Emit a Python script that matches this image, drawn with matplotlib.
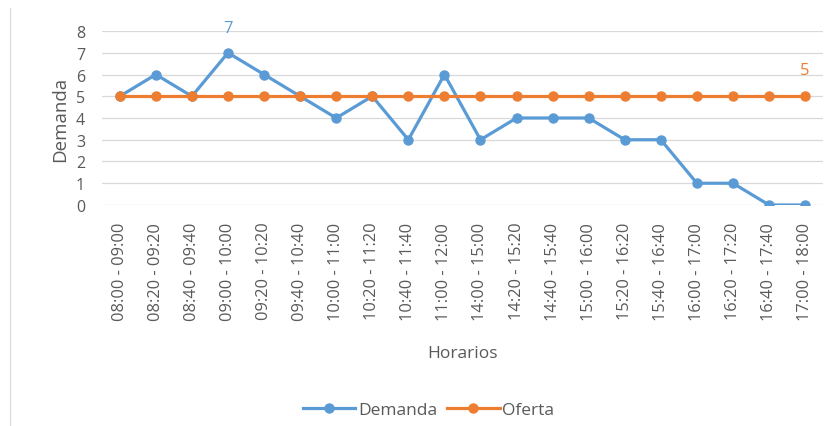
import matplotlib
matplotlib.use("Agg")
import matplotlib.pyplot as plt
from matplotlib.lines import Line2D

horarios = ["08:00 - 09:00", "08:20 - 09:20", "08:40 - 09:40", "09:00 - 10:00",
            "09:20 - 10:20", "09:40 - 10:40", "10:00 - 11:00", "10:20 - 11:20",
            "10:40 - 11:40", "11:00 - 12:00", "14:00 - 15:00", "14:20 - 15:20",
            "14:40 - 15:40", "15:00 - 16:00", "15:20 - 16:20", "15:40 - 16:40",
            "16:00 - 17:00", "16:20 - 17:20", "16:40 - 17:40", "17:00 - 18:00"]
demanda = [5, 6, 5, 7, 6, 5, 4, 5, 3, 6, 3, 4, 4, 4, 3, 3, 1, 1, 0, 0]
oferta = [5] * 20
yticks = [0, 1, 2, 3, 4, 5, 6, 7, 8]

blue = "#5B9BD5"
orange = "#ED7D31"
txt = "#595959"
plt.rcParams['font.family'] = ['Open Sans', 'DejaVu Sans']

fig = plt.figure(figsize=(8.34, 4.27), dpi=100)
ax = fig.add_axes([0.122, 0.5176, 0.865, 0.4074])
x = list(range(len(horarios)))
ax.plot(x, demanda, color=blue, lw=2.3, marker='o', ms=6.5, label='Demanda', zorder=3)
ax.plot(x, oferta, color=orange, lw=2.3, marker='o', ms=6.5, label='Oferta', zorder=4)
ax.set_xlim(-0.5, len(horarios) - 0.5)
ax.set_ylim(0, 8)
ax.set_yticks(yticks)
ax.set_xticks(x)
ax.set_xticklabels(horarios, rotation=90, fontsize=11.8, color=txt)
ax.tick_params(axis='y', labelsize=11.5, colors=txt, length=0, pad=12)
ax.tick_params(axis='x', length=0, pad=12)
ax.grid(axis='y', color='#D9D9D9', lw=0.9)
ax.set_axisbelow(True)
for s in ax.spines.values():
    s.set_visible(False)
ax.set_ylabel('Demanda', fontsize=13.5, color=txt, labelpad=5)
ax.set_xlabel('Horarios', fontsize=12.5, color=txt, labelpad=18)

imax = demanda.index(max(demanda))
ax.annotate(str(demanda[imax]), (imax, demanda[imax]), xytext=(0, 18), textcoords='offset points',
            ha='center', va='center', color=blue, fontsize=12)
ax.annotate(str(oferta[-1]), (len(oferta) - 1, oferta[-1]), xytext=(0, 19), textcoords='offset points',
            ha='center', va='center', color=orange, fontsize=12)

fig.legend(loc='center', bbox_to_anchor=(0.514, 0.038), ncol=2, frameon=False,
           fontsize=12.5, labelcolor=txt, handlelength=3.0, columnspacing=0.6, handletextpad=0.15)
fig.add_artist(Line2D([0.012, 0.012], [0.0, 0.98], color='#D9D9D9', lw=0.8, transform=fig.transFigure))
fig.savefig('out.png', dpi=100)
